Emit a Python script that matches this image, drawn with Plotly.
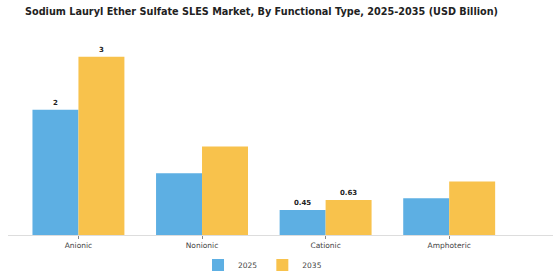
import plotly.graph_objects as go

categories = ["Anionic", "Nonionic", "Cationic", "Amphoteric"]
years = ["2025", "2035"]
values_2025 = [2.25, 1.11, 0.45, 0.66]
values_2035 = [3.2, 1.59, 0.63, 0.96]
labels_2025 = ["2", "", "0.45", ""]
labels_2035 = ["3", "", "0.63", ""]
colors = ["#5DAFE3", "#F8C24C"]

fig = go.Figure()
for name, vals, labs, col in [(years[0], values_2025, labels_2025, colors[0]),
                              (years[1], values_2035, labels_2035, colors[1])]:
    fig.add_trace(go.Bar(
        x=categories, y=vals, name=name, marker=dict(color=col, line=dict(width=0)),
        text=labs, textposition="outside", cliponaxis=False,
        textfont=dict(family="DejaVu Sans", size=7, color="#222222", weight="bold"),
    ))

fig.update_layout(
    width=560, height=280,
    margin=dict(l=8, r=7, t=40, b=45, autoexpand=False),
    paper_bgcolor="white", plot_bgcolor="white",
    barmode="group", bargap=0.256, bargroupgap=0,
    title=dict(text="<b>Sodium Lauryl Ether Sulfate SLES Market, By Functional Type, 2025-2035 (USD Billion)</b>",
               x=0.467, xanchor="center", y=0.96, yanchor="middle",
               font=dict(family="DejaVu Sans", size=9.7, color="#222222")),
    legend=dict(orientation="h", x=0.467, xanchor="center", y=-0.154, yanchor="middle",
                font=dict(family="DejaVu Sans", size=7.5, color="#444444"),
                itemwidth=30, traceorder="normal"),
    showlegend=True,
)
fig.update_xaxes(range=[-0.57, 3.84], showline=True, linecolor="#DDDDDD", linewidth=1,
                 ticks="outside", ticklen=3, tickcolor="#888888",
                 tickfont=dict(family="DejaVu Sans", size=7.5, color="#444444"),
                 showgrid=False)
fig.update_yaxes(range=[0, 3.5], visible=False, showgrid=False)

fig.write_html("out.html")
